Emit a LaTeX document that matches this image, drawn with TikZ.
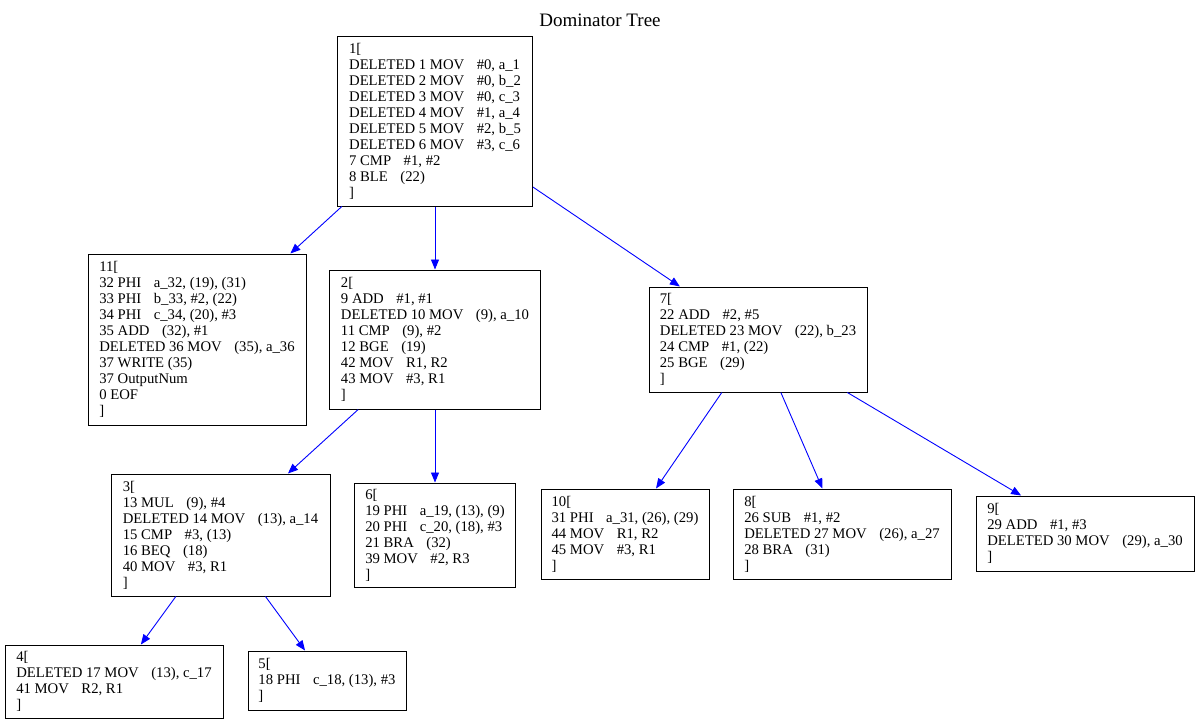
\documentclass[tikz,border=0pt]{standalone}
\usepackage{fontspec}
\setmainfont{Liberation Serif}
\usetikzlibrary{arrows.meta}
\newcommand\tb{\hspace{12.5pt}}
\begin{document}
\begin{tikzpicture}[x=1pt,y=-1pt,
  box/.style={draw=black,line width=1pt,align=left,inner sep=0pt,
    font=\fontsize{14.7}{16}\selectfont},
  edge/.style={draw=blue,line width=0.9pt,-{Triangle[length=10pt,width=8pt]}}]
\useasboundingbox (0,0) rectangle (1200,724);
\node[font=\fontsize{19}{20}\selectfont] (title) at (600,20) {Dominator Tree};
\node[box,minimum width=195pt,minimum height=170pt] (n1) at (435,121) {1[\\
DELETED 1 MOV\tb\#0, a\_1\\
DELETED 2 MOV\tb\#0, b\_2\\
DELETED 3 MOV\tb\#0, c\_3\\
DELETED 4 MOV\tb\#1, a\_4\\
DELETED 5 MOV\tb\#2, b\_5\\
DELETED 6 MOV\tb\#3, c\_6\\
7 CMP\tb\#1, \#2\\
8 BLE\tb(22)\\
]};
\node[box,minimum width=218pt,minimum height=171pt] (n11) at (197,339.5) {11[\\
32 PHI\tb a\_32, (19), (31)\\
33 PHI\tb b\_33, \#2, (22)\\
34 PHI\tb c\_34, (20), \#3\\
35 ADD\tb(32), \#1\\
DELETED 36 MOV\tb(35), a\_36\\
37 WRITE (35)\\
37 OutputNum\\
0 EOF\\
]};
\node[box,minimum width=211pt,minimum height=139pt] (n2) at (435,339.5) {2[\\
9 ADD\tb\#1, \#1\\
DELETED 10 MOV\tb(9), a\_10\\
11 CMP\tb(9), \#2\\
12 BGE\tb(19)\\
42 MOV\tb R1, R2\\
43 MOV\tb\#3, R1\\
]};
\node[box,minimum width=218pt,minimum height=105pt] (n7) at (758,339.5) {7[\\
22 ADD\tb\#2, \#5\\
DELETED 23 MOV\tb(22), b\_23\\
24 CMP\tb\#1, (22)\\
25 BGE\tb(29)\\
]};
\node[box,minimum width=219pt,minimum height=122pt] (n3) at (220.5,535) {3[\\
13 MUL\tb(9), \#4\\
DELETED 14 MOV\tb(13), a\_14\\
15 CMP\tb\#3, (13)\\
16 BEQ\tb(18)\\
40 MOV\tb\#3, R1\\
]};
\node[box,minimum width=161pt,minimum height=104pt] (n6) at (435,535) {6[\\
19 PHI\tb a\_19, (13), (9)\\
20 PHI\tb c\_20, (18), \#3\\
21 BRA\tb(32)\\
39 MOV\tb\#2, R3\\
]};
\node[box,minimum width=168pt,minimum height=90pt] (n10) at (625,534) {10[\\
31 PHI\tb a\_31, (26), (29)\\
44 MOV\tb R1, R2\\
45 MOV\tb\#3, R1\\
]};
\node[box,minimum width=218pt,minimum height=90pt] (n8) at (842,534) {8[\\
26 SUB\tb\#1, \#2\\
DELETED 27 MOV\tb(26), a\_27\\
28 BRA\tb(31)\\
]};
\node[box,minimum width=218pt,minimum height=75pt] (n9) at (1085,533.5) {9[\\
29 ADD\tb\#1, \#3\\
DELETED 30 MOV\tb(29), a\_30\\
]};
\node[box,minimum width=218pt,minimum height=73pt] (n4) at (114,681.5) {4[\\
DELETED 17 MOV\tb(13), c\_17\\
41 MOV\tb R2, R1\\
]};
\node[box,minimum width=158pt,minimum height=59pt] (n5) at (327,680.5) {5[\\
18 PHI\tb c\_18, (13), \#3\\
]};
\draw[edge] (n1) -- (n11);
\draw[edge] (n1) -- (n2);
\draw[edge] (n1) -- (n7);
\draw[edge] (n2) -- (n3);
\draw[edge] (n2) -- (n6);
\draw[edge] (n7) -- (n10);
\draw[edge] (n7) -- (n8);
\draw[edge] (n7) -- (n9);
\draw[edge] (n3) -- (n4);
\draw[edge] (n3) -- (n5);
\end{tikzpicture}
\end{document}
